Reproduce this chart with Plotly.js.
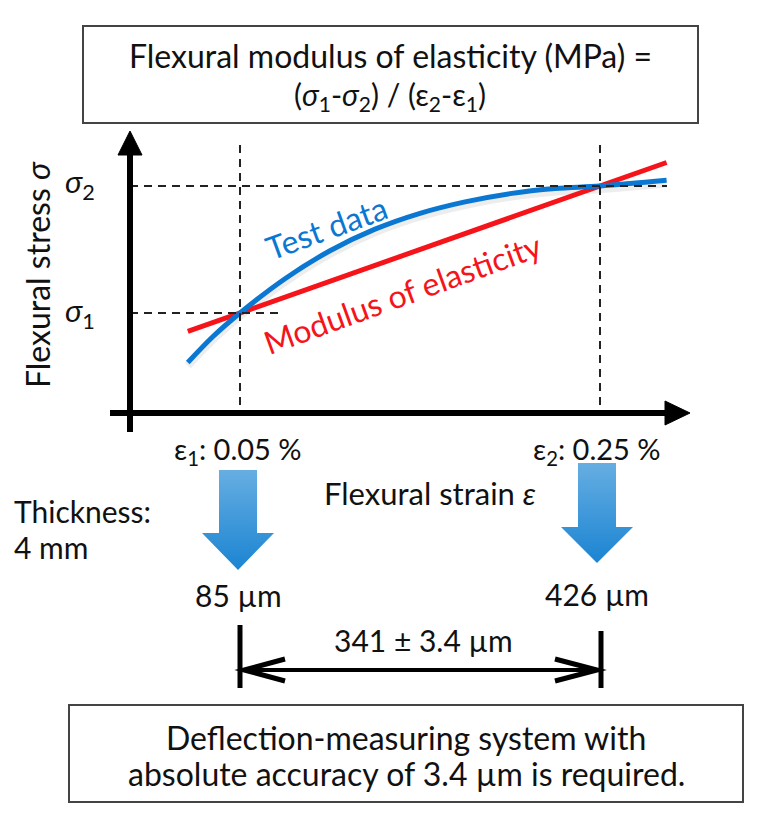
<!DOCTYPE html>
<html><head><meta charset="utf-8">
<script src="https://cdn.plot.ly/plotly-3.0.1.min.js"></script>
<style>html,body{margin:0;padding:0;background:#fff}</style>
</head><body><div id="chart" style="width:768px;height:821px"></div>
<script>
// ---------- data ----------
const testStrain = [0.021, 0.035, 0.05, 0.075, 0.1, 0.125, 0.15, 0.175, 0.2, 0.225, 0.25, 0.287];
const testStress = [0.61, 0.815, 1.0, 1.27, 1.49, 1.66, 1.785, 1.875, 1.94, 1.98, 2.0, 2.045];
const modulusStrain = [0.021, 0.287];
const modulusStress = [0.855, 2.185];
const epsPoints = [0.05, 0.25];      // ε1, ε2 (%)
const sigmaPoints = [1, 2];          // σ1, σ2 (relative)
const epsLabels = ["ε<sub>1</sub>: 0.05 %", "ε<sub>2</sub>: 0.25 %"];
const sigmaLabels = ["<i>σ</i><sub>1</sub>", "<i>σ</i><sub>2</sub>"];
const deflectionLabels = ["85 µm", "426 µm"];
const spanLabel = "341 ± 3.4 µm";

// ---------- layout helpers ----------
const W = 768, H = 821;
const X_E1 = 240, PX_PER_STRAIN = 1800, Y_S1 = 313, PX_PER_STRESS = 127;
const dx = p => epsPoints[0] + (p - X_E1) / PX_PER_STRAIN;
const dy = p => sigmaPoints[0] - (p - Y_S1) / PX_PER_STRESS;
const px = p => p / W;
const py = p => 1 - p / H;
const path = pts => pts.map((q, i) => (i ? 'L ' : 'M ') + px(q[0]) + ',' + py(q[1])).join(' ');

const FONT = 'Lato, "Open Sans", sans-serif';
const BLACK = '#111';
const BLUE = '#0a78d2';
const RED = '#f5141a';

// ---------- traces ----------
function blueArrow(cx, top, headTop, tip) {
  const sw = 19, hw = 36;
  const pts = [[cx - sw, top], [cx + sw, top], [cx + sw, headTop], [cx + hw, headTop], [cx, tip],
               [cx - hw, headTop], [cx - sw, headTop], [cx - sw, top]];
  return {
    x: pts.map(q => dx(q[0])), y: pts.map(q => dy(q[1])),
    mode: 'lines', line: {width: 0, color: 'rgba(0,0,0,0)'}, fill: 'toself',
    fillgradient: {type: 'vertical', colorscale: [[0, '#1b84d2'], [1, '#66aee2']]},
    hoverinfo: 'skip', showlegend: false
  };
}

const traces = [
  { x: testStrain, y: testStress.map(v => v - 0.025), mode: 'lines',
    line: {color: 'rgba(0,0,0,0.07)', width: 8, shape: 'spline'}, hoverinfo: 'skip', showlegend: false },
  { x: modulusStrain, y: modulusStress, mode: 'lines', name: 'Modulus of elasticity',
    line: {color: RED, width: 5}, showlegend: false },
  { x: testStrain, y: testStress, mode: 'lines', name: 'Test data',
    line: {color: BLUE, width: 5, shape: 'spline', smoothing: 1}, showlegend: false },
  blueArrow(238, 470, 533, 570),
  blueArrow(597, 463, 527, 563)
];

// ---------- shapes ----------
const dash = {color: '#222', width: 2, dash: '8px,6px'};
const shapes = [
  {type: 'rect', xref: 'paper', yref: 'paper', x0: px(83), x1: px(698), y0: py(26), y1: py(123), line: {color: '#444', width: 2}},
  {type: 'rect', xref: 'paper', yref: 'paper', x0: px(69), x1: px(743), y0: py(705), y1: py(802), line: {color: '#444', width: 2}},
  // dashed guides
  {type: 'line', xref: 'x', yref: 'paper', x0: epsPoints[0], x1: epsPoints[0], y0: py(145), y1: py(413), line: dash},
  {type: 'line', xref: 'x', yref: 'paper', x0: epsPoints[1], x1: epsPoints[1], y0: py(145), y1: py(413), line: dash},
  {type: 'line', xref: 'paper', yref: 'y', x0: px(130), x1: px(667), y0: sigmaPoints[1], y1: sigmaPoints[1], line: dash},
  {type: 'line', xref: 'paper', yref: 'y', x0: px(130), x1: px(283), y0: sigmaPoints[0], y1: sigmaPoints[0], line: dash},
  // axes
  {type: 'line', xref: 'paper', yref: 'paper', x0: px(130), x1: px(130), y0: py(150), y1: py(432), line: {color: '#000', width: 6}},
  {type: 'line', xref: 'paper', yref: 'paper', x0: px(110), x1: px(670), y0: py(413), y1: py(413), line: {color: '#000', width: 6}},
  {type: 'path', xref: 'paper', yref: 'paper', path: path([[118, 155], [130, 131], [142, 155]]) + ' Z', fillcolor: '#000', line: {color: '#000', width: 1}},
  {type: 'path', xref: 'paper', yref: 'paper', path: path([[665, 401], [690, 413], [665, 425]]) + ' Z', fillcolor: '#000', line: {color: '#000', width: 1}},
  // span bars and double arrow
  {type: 'line', xref: 'paper', yref: 'paper', x0: px(240), x1: px(240), y0: py(625), y1: py(688), line: {color: '#000', width: 5}},
  {type: 'line', xref: 'paper', yref: 'paper', x0: px(601), x1: px(601), y0: py(631), y1: py(688), line: {color: '#000', width: 5}},
  {type: 'line', xref: 'paper', yref: 'paper', x0: px(243), x1: px(598), y0: py(670), y1: py(670), line: {color: '#000', width: 4}},
  {type: 'path', xref: 'paper', yref: 'paper', path: path([[285, 659], [244, 670], [285, 681]]), line: {color: '#000', width: 5}},
  {type: 'path', xref: 'paper', yref: 'paper', path: path([[555, 659], [597, 670], [555, 681]]), line: {color: '#000', width: 5}}
];

// ---------- annotations ----------
function txt(text, x, y, size, opts) {
  return Object.assign({text: text, x: px(x), y: py(y), xref: 'paper', yref: 'paper', showarrow: false,
    xanchor: 'center', yanchor: 'middle', font: {family: FONT, size: size, color: BLACK}}, opts || {});
}
const annotations = [
  txt('Flexural modulus of elasticity (MPa) =', 390, 55, 32),
  txt('(<i>σ</i><sub>1</sub>-<i>σ</i><sub>2</sub>) / (ε<sub>2</sub>-ε<sub>1</sub>)', 390, 96, 30),
  txt('Flexural stress <i>σ</i>', 37, 275, 32, {textangle: -90}),
  txt(sigmaLabels[1], 80, 183, 31),
  txt(sigmaLabels[0], 80, 313, 31),
  txt('Test data', 326, 227, 32, {textangle: -20, font: {family: FONT, size: 32, color: BLUE}}),
  txt('Modulus of elasticity', 402, 293, 32, {textangle: -20, font: {family: FONT, size: 32, color: RED}}),
  txt(epsLabels[0], 238, 450, 29),
  txt(epsLabels[1], 597, 450, 29),
  txt('Flexural strain <i>ε</i>', 430, 493, 31),
  txt('Thickness:', 12, 511, 30, {xanchor: 'left'}),
  txt('4 mm', 12, 547, 30, {xanchor: 'left'}),
  txt(deflectionLabels[0], 238, 595, 30),
  txt(deflectionLabels[1], 597, 594, 30),
  txt(spanLabel, 423, 640, 30),
  txt('Deflection-measuring system with', 406, 737, 32),
  txt('absolute accuracy of 3.4 µm is required.', 406, 773, 32)
];

const layout = {
  width: W, height: H, autosize: false,
  margin: {l: 0, r: 0, t: 0, b: 0, pad: 0},
  paper_bgcolor: '#fff', plot_bgcolor: '#fff',
  xaxis: {range: [dx(0), dx(W)], visible: false, fixedrange: true},
  yaxis: {range: [dy(H), dy(0)], visible: false, fixedrange: true},
  shapes: shapes, annotations: annotations, showlegend: false
};
Plotly.newPlot('chart', traces, layout, {staticPlot: true, displayModeBar: false});
</script>
</body></html>
